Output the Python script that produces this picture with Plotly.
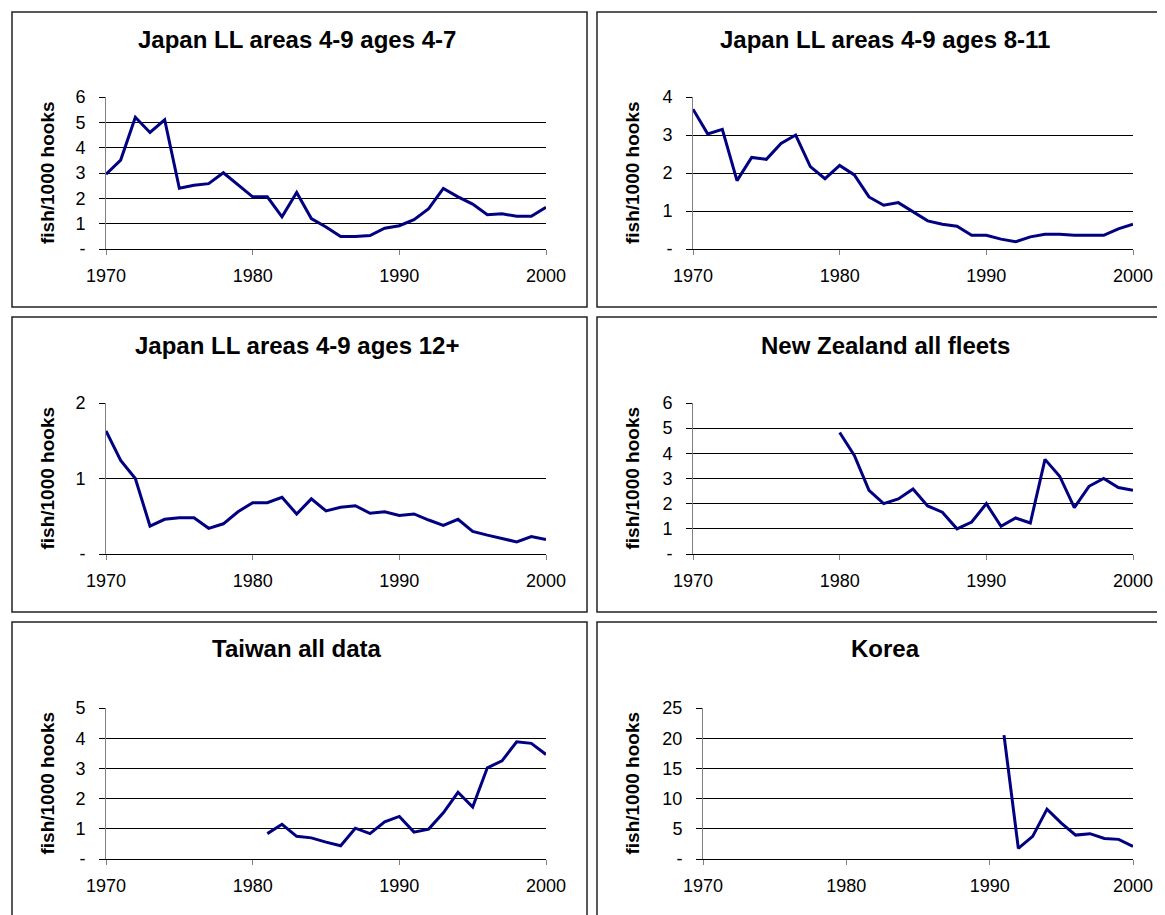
import plotly.graph_objects as go

OFF = 8  # page body margin added by the browser
W, H = 1165 - OFF, 915 - OFF  # figure fits the window without scrollbars

# ---------------- data ----------------
years = list(range(1970, 2001))
jp_ages_4_7 = [2.95, 3.51, 5.2, 4.6, 5.1, 2.4, 2.52, 2.58, 3.01, 2.52, 2.06,
               2.06, 1.27, 2.23, 1.2, 0.87, 0.49, 0.49, 0.53, 0.82, 0.92,
               1.16, 1.59, 2.39, 2.06, 1.77, 1.35, 1.39, 1.29, 1.29, 1.65]
jp_ages_8_11 = [3.68, 3.03, 3.15, 1.8, 2.41, 2.36, 2.78, 3.0, 2.17, 1.85, 2.2,
                1.95, 1.37, 1.15, 1.22, 0.98, 0.74, 0.65, 0.6, 0.36, 0.36,
                0.26, 0.19, 0.32, 0.39, 0.39, 0.36, 0.36, 0.36, 0.53, 0.65]
jp_ages_12p = [1.63, 1.24, 1.0, 0.37, 0.46, 0.48, 0.48, 0.34, 0.4, 0.56, 0.68,
               0.68, 0.75, 0.53, 0.73, 0.57, 0.62, 0.64, 0.54, 0.56, 0.51,
               0.53, 0.45, 0.38, 0.46, 0.30, 0.25, 0.2, 0.16, 0.23, 0.19]
nz_years = list(range(1980, 2001))
nz_all = [4.83, 3.92, 2.53, 2.0, 2.19, 2.58, 1.91, 1.66, 1.0, 1.27, 2.0,
          1.1, 1.43, 1.23, 3.76, 3.09, 1.84, 2.69, 3.0, 2.64, 2.53]
tw_years = list(range(1981, 2001))
tw_all = [0.84, 1.15, 0.75, 0.7, 0.56, 0.44, 1.02, 0.84, 1.23, 1.41,
          0.89, 0.99, 1.53, 2.21, 1.72, 3.02, 3.25, 3.88, 3.83, 3.46]
kr_years = list(range(1991, 2001))
kr_all = [20.5, 1.76, 3.74, 8.26, 5.95, 3.96, 4.19, 3.41, 3.25, 2.09]

titles = ["Japan LL areas 4-9 ages 4-7", "Japan LL areas 4-9 ages 8-11",
          "Japan LL areas 4-9 ages 12+", "New Zealand all fleets",
          "Taiwan all data", "Korea"]
y_axis_label = "fish/1000 hooks"
x_ticks = [1970, 1980, 1990, 2000]
y_ticks = [[0, 1, 2, 3, 4, 5, 6], [0, 1, 2, 3, 4], [0, 1, 2],
           [0, 1, 2, 3, 4, 5, 6], [0, 1, 2, 3, 4, 5], [0, 5, 10, 15, 20, 25]]
series = [(years, jp_ages_4_7), (years, jp_ages_8_11), (years, jp_ages_12p),
          (nz_years, nz_all), (tw_years, tw_all), (kr_years, kr_all)]

# ---------------- layout geometry (screen pixels) ----------------
boxes = [(12, 587, 12, 307), (597, 1185, 12, 307),
         (12, 587, 317, 612), (597, 1185, 317, 612),
         (12, 587, 622, 940), (597, 1185, 622, 940)]
plots = [(106, 546, 97, 249), (693, 1133, 97, 249),
         (106, 546, 403, 554), (693, 1133, 403, 554),
         (106, 546, 708, 859), (703, 1133, 708, 859)]
title_pos = [(297, 40), (885, 40), (297, 345), (885, 345), (297, 648), (885, 648)]
ytitle_x = [47, 632, 47, 632, 47, 632]


def xp(px):
    return (px - OFF) / W


def yp(py):
    return 1 - (py - OFF) / H


FONT = "Liberation Sans, Arial, sans-serif"
fig = go.Figure()
layout = dict(template="none", width=W, height=H, autosize=False,
              margin=dict(l=0, r=0, t=0, b=0, pad=0, autoexpand=False),
              paper_bgcolor="white", plot_bgcolor="white",
              showlegend=False, font=dict(family=FONT, color="black"))
shapes, annotations = [], []

for i in range(6):
    n = "" if i == 0 else str(i + 1)
    xs, ys = series[i]
    fig.add_trace(go.Scatter(x=xs, y=ys, mode="lines",
                             line=dict(color="#000080", width=3),
                             xaxis="x" + n, yaxis="y" + n,
                             hoverinfo="x+y"))
    px0, px1, py0, py1 = plots[i]
    yt = y_ticks[i]
    layout["xaxis" + n] = dict(
        domain=[xp(px0), xp(px1)], anchor="y" + n, range=[1970, 2000],
        tickvals=x_ticks, ticks="outside", ticklen=5, tickcolor="#808080",
        showline=True, linecolor="black", linewidth=1, showgrid=False,
        zeroline=False, automargin=False,
        tickfont=dict(size=18, family=FONT, color="black"),
        ticklabelstandoff=5, fixedrange=True)
    layout["yaxis" + n] = dict(
        domain=[yp(py1), yp(py0)], anchor="x" + n, range=[0, yt[-1]],
        tickvals=yt, ticktext=["-"] + [str(v) for v in yt[1:]],
        ticks="outside", ticklen=6, tickcolor="black",
        showline=True, linecolor="#808080", linewidth=1,
        showgrid=True, gridcolor="black", gridwidth=1, zeroline=False,
        automargin=False,
        tickfont=dict(size=18, family=FONT, color="black"),
        ticklabelstandoff=10, fixedrange=True)
    bx0, bx1, by0, by1 = boxes[i]
    shapes.append(dict(type="rect", xref="paper", yref="paper",
                       x0=xp(bx0), x1=xp(bx1), y0=yp(by1), y1=yp(by0),
                       line=dict(color="#222222", width=1.5), layer="below"))
    tx, ty = title_pos[i]
    annotations.append(dict(text="<b>%s</b>" % titles[i], xref="paper",
                            yref="paper", x=xp(tx), y=yp(ty), showarrow=False,
                            xanchor="center", yanchor="middle",
                            font=dict(size=24, family=FONT, color="black")))
    annotations.append(dict(text="<b>%s</b>" % y_axis_label, xref="paper",
                            yref="paper", x=xp(ytitle_x[i]),
                            y=yp((py0 + py1) / 2), showarrow=False,
                            textangle=-90, xanchor="center", yanchor="middle",
                            font=dict(size=19, family=FONT, color="black")))

layout["shapes"] = shapes
layout["annotations"] = annotations
fig.update_layout(**layout)
fig.write_html("out.html")
